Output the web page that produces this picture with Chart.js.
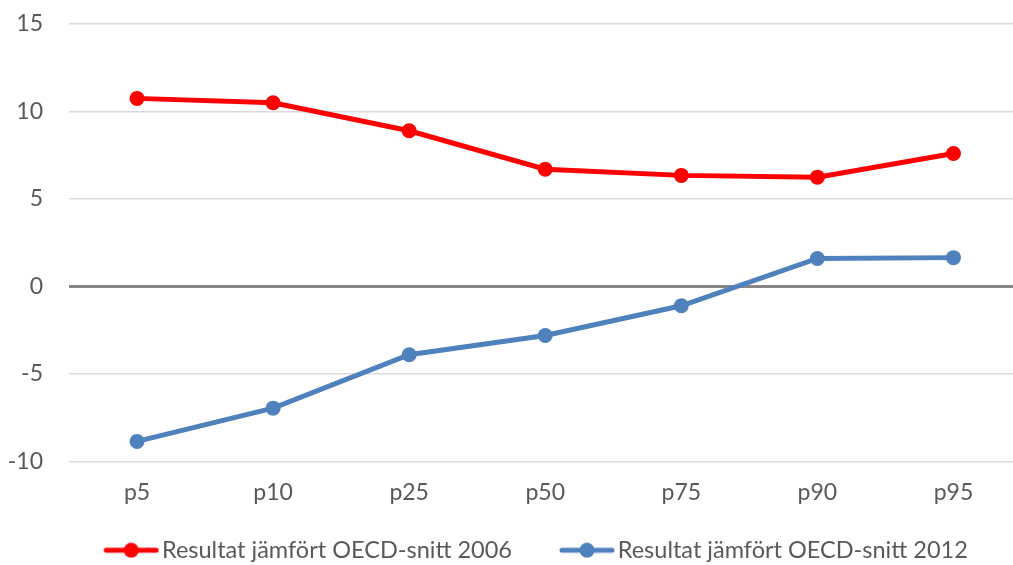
<!doctype html>
<html>
<head>
    <meta charset="UTF-8"/>
    <title>Resultat jämfört OECD-snitt</title>
    <script src="https://cdn.jsdelivr.net/npm/chart.js@4/dist/chart.umd.min.js"></script>
</head>
<body style="margin: 0; overflow: hidden;">
<!-- a bit larger than the window so the plot runs out to the right edge like the original -->
<div style="width: 1029px; height: 572px;">
    <canvas id="myChart"></canvas>
</div>

<script>
    var labels = ['p5', 'p10', 'p25', 'p50', 'p75', 'p90', 'p95'];
    var result2006 = [10.75, 10.5, 8.9, 6.7, 6.35, 6.25, 7.6];
    var result2012 = [-8.85, -6.95, -3.9, -2.8, -1.1, 1.6, 1.65];
    var yTicks = [-10, -5, 0, 5, 10, 15];

    // legend marker: short line with a dot, blank space on the left
    // gives the gap between the two legend items
    function marker(color) {
        var c = document.createElement('canvas');
        c.width = 107;
        c.height = 16;
        var g = c.getContext('2d');
        g.strokeStyle = color;
        g.lineWidth = 5;
        g.lineCap = 'round';
        g.beginPath();
        g.moveTo(54, 8);
        g.lineTo(104, 8);
        g.stroke();
        g.fillStyle = color;
        g.beginPath();
        g.arc(79, 8, 7.5, 0, Math.PI * 2);
        g.fill();
        return c;
    }

    Chart.defaults.font.family = 'Lato, "Open Sans", sans-serif';
    Chart.defaults.font.size = 22;
    Chart.defaults.color = '#595959';

    var ctx = document.getElementById('myChart').getContext('2d');
    var myChart = new Chart(ctx, {
        type: 'line',
        data: {
            labels  : labels,
            datasets: [
                {
                    label           : 'Resultat jämfört OECD-snitt 2006',
                    data            : result2006,
                    borderWidth     : 5,
                    borderColor     : '#ff0000',
                    backgroundColor : '#ff0000',
                    pointStyle      : 'circle',
                    pointRadius     : 7.5,
                    pointHoverRadius: 7.5,
                    pointBorderWidth: 0,
                    tension         : 0
                },
                {
                    label           : 'Resultat jämfört OECD-snitt 2012',
                    data            : result2012,
                    borderWidth     : 5,
                    borderColor     : '#4f81bd',
                    backgroundColor : '#4f81bd',
                    pointStyle      : 'circle',
                    pointRadius     : 7.5,
                    pointHoverRadius: 7.5,
                    pointBorderWidth: 0,
                    tension         : 0
                }
            ]
        },
        options: {
            responsive         : true,
            maintainAspectRatio: false,
            animation          : false,
            layout: {
                padding: {top: 24, right: 0, left: 0, bottom: 0}
            },
            plugins: {
                tooltip: {enabled: false},
                legend : {
                    position: 'bottom',
                    labels  : {
                        usePointStyle  : true,
                        pointStyleWidth: 89,
                        padding        : 5,
                        font           : {size: 23.5},
                        generateLabels : function (chart) {
                            return chart.data.datasets.map(function (ds, i) {
                                return {
                                    text        : ds.label,
                                    pointStyle  : marker(ds.borderColor),
                                    fillStyle   : ds.borderColor,
                                    strokeStyle : ds.borderColor,
                                    lineWidth   : 0,
                                    fontColor   : '#595959',
                                    datasetIndex: i
                                };
                            });
                        }
                    }
                }
            },
            scales: {
                x: {
                    offset: true,
                    grid  : {display: false, drawTicks: false},
                    border: {display: false},
                    ticks : {padding: 17, font: {size: 23}},
                    afterFit: function (scale) {
                        scale.height = 72;
                        scale.paddingLeft = 0;
                        scale.paddingRight = 0;
                    }
                },
                y: {
                    min   : -10,
                    max   : 15,
                    border: {display: false},
                    grid  : {
                        drawTicks: false,
                        color    : function (c) { return c.tick.value === 0 ? '#868686' : '#d9d9d9'; },
                        lineWidth: function (c) { return c.tick.value === 0 ? 3 : 1.5; }
                    },
                    afterBuildTicks: function (scale) {
                        scale.ticks = yTicks.map(function (v) { return {value: v}; });
                    },
                    afterFit: function (scale) {
                        scale.width = 69;
                        scale.paddingTop = 0;
                        scale.paddingBottom = 0;
                    },
                    ticks : {padding: 26, font: {size: 23}}
                }
            }
        }
    });
</script>
</body>
</html>
